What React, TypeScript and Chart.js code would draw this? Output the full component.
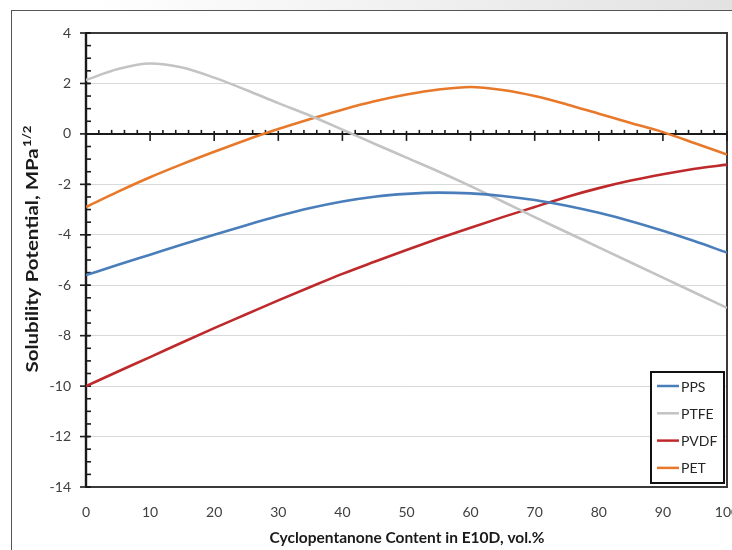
import React, { useEffect, useRef } from "react";
import { Chart, registerables } from "chart.js";

Chart.register(...registerables);

const xValues = [0, 5, 10, 15, 20, 25, 30, 35, 40, 45, 50, 55, 60, 65, 70, 75, 80, 85, 90, 95, 100];
const ppsValues = [-5.6, -5.19, -4.79, -4.39, -4.0, -3.62, -3.26, -2.94, -2.68, -2.49, -2.38, -2.33, -2.36, -2.46, -2.62, -2.85, -3.13, -3.46, -3.84, -4.26, -4.71];
const ptfeValues = [2.14, 2.57, 2.79, 2.63, 2.23, 1.74, 1.22, 0.72, 0.17, -0.39, -0.94, -1.49, -2.07, -2.68, -3.3, -3.9, -4.5, -5.1, -5.7, -6.3, -6.9];
const pvdfValues = [-10, -9.42, -8.85, -8.27, -7.7, -7.15, -6.6, -6.07, -5.55, -5.07, -4.6, -4.15, -3.72, -3.3, -2.9, -2.5, -2.15, -1.85, -1.6, -1.38, -1.22];
const petValues = [-2.9, -2.29, -1.72, -1.2, -0.71, -0.24, 0.19, 0.59, 0.96, 1.29, 1.56, 1.76, 1.86, 1.74, 1.5, 1.17, 0.8, 0.43, 0.07, -0.37, -0.82];

const seriesNames = ["PPS", "PTFE", "PVDF", "PET"];
const seriesColors = ["#4a7ebb", "#c3c3c3", "#be2a2c", "#e8782a"];

const xMajorTicks = [0, 10, 20, 30, 40, 50, 60, 70, 80, 90, 100];
const xMinorTicks = [2, 4, 6, 8, 12, 14, 16, 18, 22, 24, 26, 28, 32, 34, 36, 38, 42, 44, 46, 48, 52, 54, 56, 58, 62, 64, 66, 68, 72, 74, 76, 78, 82, 84, 86, 88, 92, 94, 96, 98];
const yMajorTicks = [-14, -12, -10, -8, -6, -4, -2, 0, 2, 4];
const yMinorStep = 0.5;

const xTitle = "Cyclopentanone Content in E10D, vol.%";
const yTitleMain = "Solubility Potential, MPa";
const yTitleSup = "1/2";

const FONT = "Lato, 'Open Sans', sans-serif";

const decorPlugin = {
  id: "decor",
  beforeDatasetsDraw(chart: any) {
    const { ctx, chartArea: a, scales } = chart;
    const x = scales.x;
    const y = scales.y;
    ctx.save();
    const line = (x1: number, y1: number, x2: number, y2: number) => {
      ctx.beginPath();
      ctx.moveTo(x1, y1);
      ctx.lineTo(x2, y2);
      ctx.stroke();
    };
    // plot frame
    ctx.strokeStyle = "#3a3a3a";
    ctx.lineWidth = 2;
    ctx.strokeRect(a.left, a.top, a.right - a.left, a.bottom - a.top);
    // zero axis
    const y0 = y.getPixelForValue(0);
    ctx.strokeStyle = "#1a1a1a";
    ctx.lineWidth = 2;
    line(a.left, y0, a.right, y0);
    ctx.lineWidth = 1.6;
    for (const v of xMinorTicks) {
      const px = x.getPixelForValue(v);
      line(px, y0, px, y0 - 4);
    }
    for (const v of xMajorTicks) {
      const px = x.getPixelForValue(v);
      line(px, y0 - 3, px, y0 + 7);
    }
    // y axis
    ctx.lineWidth = 2.4;
    line(a.left, a.top, a.left, a.bottom);
    ctx.lineWidth = 1.6;
    const yMin = yMajorTicks[0];
    const yMax = yMajorTicks[yMajorTicks.length - 1];
    for (let v = yMin; v <= yMax + 1e-9; v += yMinorStep) {
      const py = y.getPixelForValue(v);
      line(a.left, py, a.left + 5, py);
    }
    for (const v of yMajorTicks) {
      const py = y.getPixelForValue(v);
      line(a.left - 6, py, a.left + 4, py);
    }
    ctx.restore();
  },
  afterDraw(chart: any) {
    const { ctx, chartArea: a } = chart;
    ctx.save();
    // legend
    const lw = 73;
    const lh = 111;
    const lx = a.right - 3 - lw;
    const ly = a.bottom - 4 - lh;
    ctx.fillStyle = "#ffffff";
    ctx.fillRect(lx, ly, lw, lh);
    ctx.strokeStyle = "#111";
    ctx.lineWidth = 2;
    ctx.strokeRect(lx, ly, lw, lh);
    ctx.font = `14px ${FONT}`;
    ctx.textBaseline = "middle";
    ctx.textAlign = "left";
    seriesNames.forEach((name, i) => {
      const cy = ly + 14 + i * 27.3;
      ctx.strokeStyle = seriesColors[i];
      ctx.lineWidth = 2.5;
      ctx.beginPath();
      ctx.moveTo(lx + 6, cy);
      ctx.lineTo(lx + 28, cy);
      ctx.stroke();
      ctx.fillStyle = "#262626";
      ctx.fillText(name, lx + 30, cy + 1);
    });
    // x title
    ctx.fillStyle = "#1a1a1a";
    ctx.font = `bold 15.5px ${FONT}`;
    ctx.textAlign = "center";
    ctx.textBaseline = "alphabetic";
    ctx.fillText(xTitle, 407, 543);
    // y title (rotated, with superscript)
    ctx.translate(38, 249);
    ctx.rotate(-Math.PI / 2);
    ctx.font = `bold 17px ${FONT}`;
    const w1 = ctx.measureText(yTitleMain).width;
    ctx.font = `bold 11px ${FONT}`;
    const w2 = ctx.measureText(yTitleSup).width;
    const total = w1 + w2 + 1;
    const sx = 247 / total;
    ctx.scale(sx, 1);
    const start = -total / 2;
    ctx.textAlign = "left";
    ctx.font = `bold 17px ${FONT}`;
    ctx.fillText(yTitleMain, start, 0);
    ctx.font = `bold 11px ${FONT}`;
    ctx.fillText(yTitleSup, start + w1 + 1, -7);
    ctx.restore();
  },
};

export default function App() {
  const canvasRef = useRef<HTMLCanvasElement | null>(null);

  useEffect(() => {
    const canvas = canvasRef.current;
    if (!canvas) return;
    const values = [ppsValues, ptfeValues, pvdfValues, petValues];
    const chart = new Chart(canvas, {
      type: "line",
      data: {
        datasets: seriesNames.map((name, i) => ({
          label: name,
          data: xValues.map((xv, j) => ({ x: xv, y: values[i][j] })),
          borderColor: seriesColors[i],
          backgroundColor: seriesColors[i],
          borderWidth: 2.6,
          pointRadius: 0,
          cubicInterpolationMode: "monotone",
          fill: false,
        })),
      },
      options: {
        responsive: false,
        animation: false,
        devicePixelRatio: 1,
        layout: { padding: { left: 0, right: 5, top: 33, bottom: 0 } },
        plugins: {
          legend: { display: false },
          tooltip: { enabled: false },
        },
        scales: {
          x: {
            type: "linear",
            min: 0,
            max: 100,
            grid: { display: false },
            border: { display: false },
            ticks: {
              stepSize: 10,
              color: "#404040",
              font: { family: FONT, size: 14 },
              padding: 9,
              maxRotation: 0,
              autoSkip: false,
            },
            afterFit(scale: any) {
              scale.height = 63;
              scale.paddingLeft = 0;
              scale.paddingRight = 0;
            },
          },
          y: {
            type: "linear",
            min: -14,
            max: 4,
            grid: { color: "#d9d9d9", lineWidth: 1, drawTicks: false },
            border: { display: false },
            ticks: {
              stepSize: 2,
              color: "#404040",
              font: { family: FONT, size: 14 },
              padding: 15,
            },
            afterFit(scale: any) {
              scale.width = 86;
              scale.paddingTop = 0;
              scale.paddingBottom = 0;
            },
          },
        },
      },
      plugins: [decorPlugin],
    } as any);
    return () => chart.destroy();
  }, []);

  return (
    <div
      style={{
        position: "absolute",
        left: 0,
        top: 0,
        width: 732,
        height: 550,
        overflow: "hidden",
        background: "linear-gradient(to right, #ffffff 0%, #ffffff 12%, #e2e2e2 100%)",
      }}
    >
      <div
        style={{
          position: "absolute",
          left: 11,
          top: 10,
          width: 721,
          height: 540,
          background: "#ffffff",
          borderLeft: "1px solid #555",
          borderTop: "1px solid #555",
        }}
      />
      <canvas
        ref={canvasRef}
        width={732}
        height={550}
        style={{ position: "absolute", left: 0, top: 0 }}
      />
    </div>
  );
}
